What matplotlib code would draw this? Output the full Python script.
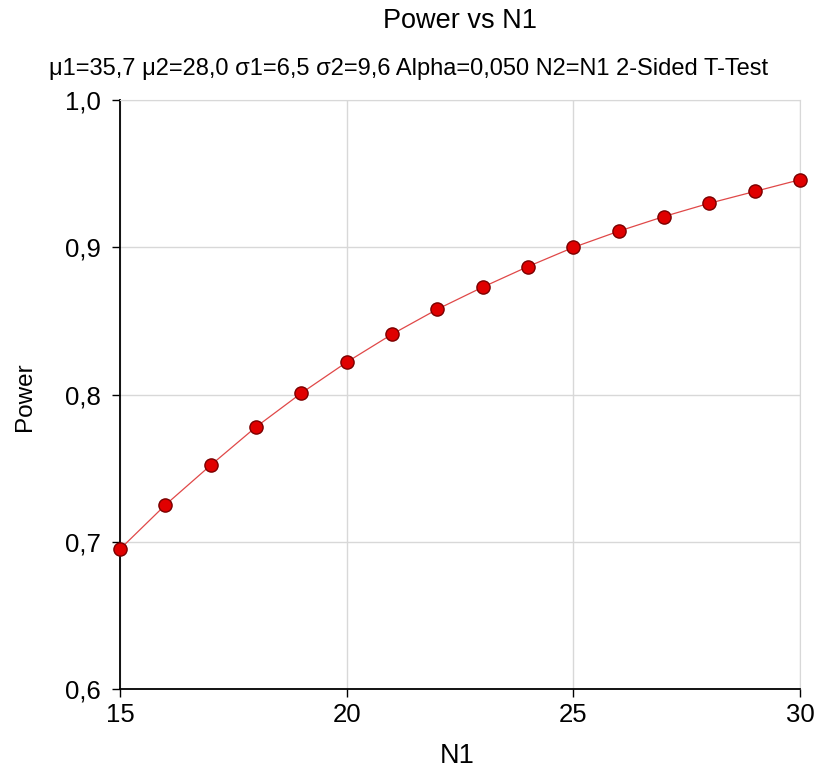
import numpy as np
import matplotlib
matplotlib.use("Agg")
import matplotlib.pyplot as plt
from matplotlib.ticker import FuncFormatter

plt.rcParams['font.family'] = ['Liberation Sans', 'DejaVu Sans']

## Data
n1 = [15, 16, 17, 18, 19, 20, 21, 22, 23, 24, 25, 26, 27, 28, 29, 30]
power = [0.695, 0.725, 0.752, 0.778, 0.801, 0.822, 0.841, 0.858,
         0.873, 0.887, 0.900, 0.911, 0.921, 0.930, 0.938, 0.946]
xticks = [15, 20, 25, 30]
yticks = [0.6, 0.7, 0.8, 0.9, 1.0]

title = "Power vs N1"
subtitle = "\u03bc1=35,7 \u03bc2=28,0 \u03c31=6,5 \u03c32=9,6 Alpha=0,050 N2=N1 2-Sided T-Test"

fig = plt.figure(figsize=(8.18, 7.71), dpi=100)
ax = fig.add_axes([0.1467, 0.1064, 0.8313, 0.7636])

ax.plot(n1, power, color='#e04848', lw=0.9, zorder=3)
ax.plot(n1, power, 'o', ms=9.5, mfc='#e00000', mec='#7a0000', mew=1.0,
        zorder=4, clip_on=False)

ax.set_xlim(15, 30)
ax.set_ylim(0.6, 1.0)
ax.set_xticks(xticks)
ax.set_yticks(yticks)
ax.xaxis.set_major_formatter(FuncFormatter(lambda v, p: f"{v:.0f}"))
ax.yaxis.set_major_formatter(FuncFormatter(lambda v, p: f"{v:.1f}".replace('.', ',')))
ax.grid(True, color='#d8d8d8', lw=1.0)
ax.set_axisbelow(True)

for s in ['top', 'right']:
    ax.spines[s].set_color('#d8d8d8')
for s in ['left', 'bottom']:
    ax.spines[s].set_color('black')
    ax.spines[s].set_linewidth(1.3)
ax.tick_params(labelsize=18.5, length=6, width=1.0, direction='out')
ax.tick_params(axis='x', pad=4)
ax.tick_params(axis='y', pad=8)

# axis labels and titles as figure text (title and N1 centred on the axes)
fig.text(0.5587, 0.0104, "N1", ha='center', va='baseline', fontsize=19.5)
fig.text(0.031, 0.485, "Power", ha='center', va='center', rotation=90, fontsize=17.5)
fig.text(0.5623, 0.9637, title, ha='center', va='baseline', fontsize=19.5)
fig.text(0.5, 0.9027, subtitle, ha='center', va='baseline', fontsize=17)

fig.savefig("out.png", dpi=100)
